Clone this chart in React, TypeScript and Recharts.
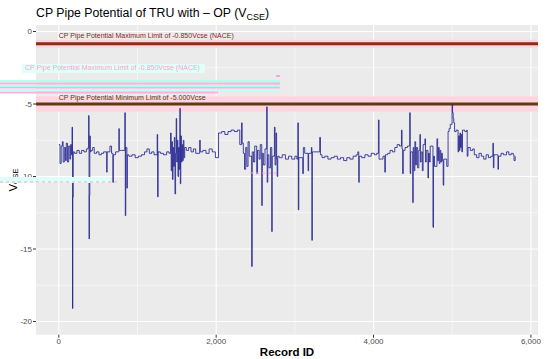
import React from "react";
import {
  LineChart,
  Line,
  XAxis,
  YAxis,
  CartesianGrid,
  ReferenceLine,
  ReferenceDot,
} from "recharts";

// record id, potential (V CSE)
const startReadings: [number, number][] = [
  [1, -7.8], [15, -9.1], [30, -7.9], [45, -7.6], [55, -9.0], [70, -8.0], [85, -8.9],
  [95, -7.7], [110, -9.0], [125, -7.9], [140, -8.8], [150, -7.8], [160, -8.5],
  [168, -6.6], [174, -19.1], [178, -11.4], [184, -8.3], [200, -8.4], [230, -8.2],
  [260, -8.4], [290, -8.2], [320, -8.3], [350, -8.1], [372, -8.0], [379, -5.8],
  [384, -14.3], [389, -11.3], [394, -7.2], [400, -8.3], [410, -8.2], [430, -8.0],
  [450, -8.4], [480, -8.3], [510, -8.5], [540, -8.4], [570, -8.3], [608, -9.7],
  [614, -8.3], [650, -7.9], [670, -8.4], [687, -10.4], [693, -8.5], [720, -8.3],
  [763, -6.7], [769, -8.2], [800, -8.2], [839, -5.6], [845, -12.7], [851, -8.0],
  [865, -10.8], [871, -8.5], [890, -8.6], [930, -8.5], [970, -8.7], [1010, -8.6],
  [1050, -8.5], [1090, -8.3], [1120, -8.1], [1150, -8.4], [1180, -8.3], [1210, -8.5],
  [1250, -7.1], [1256, -11.4], [1262, -8.3], [1290, -8.4], [1330, -8.5], [1370, -8.3],
  [1400, -8.4],
];

const earlyBurst: [number, number][] = [
  [1420, -7.0], [1428, -9.6], [1436, -7.6], [1444, -10.2], [1452, -8.0], [1460, -9.3],
  [1468, -7.3], [1476, -11.2], [1484, -8.4], [1492, -6.0], [1498, -9.0], [1506, -7.5],
  [1514, -10.0], [1522, -8.0], [1530, -9.5], [1538, -5.3], [1544, -10.5], [1550, -7.2],
  [1558, -9.0], [1566, -7.8], [1574, -8.9], [1582, -7.5], [1590, -8.7], [1600, -8.0],
  [1620, -8.2], [1650, -8.0], [1680, -8.3], [1710, -8.1], [1740, -8.4], [1790, -7.5],
  [1798, -8.3], [1830, -8.2], [1870, -8.4], [1910, -8.1], [1950, -8.3], [1990, -8.7],
  [2030, -7.0], [2070, -6.9], [2110, -7.1], [2150, -6.9], [2190, -6.8], [2230, -6.9],
  [2270, -6.8], [2300, -7.8], [2323, -6.3], [2330, -7.7], [2345, -8.4], [2360, -9.5],
  [2375, -8.0], [2390, -9.3], [2405, -7.6], [2420, -8.6], [2451, -16.2], [2458, -8.3],
  [2475, -9.0], [2490, -7.9], [2515, -9.8], [2525, -8.2], [2545, -8.8], [2560, -7.8],
  [2579, -12.0], [2586, -8.4], [2600, -9.2], [2620, -8.1], [2642, -5.2], [2648, -10.4],
  [2656, -8.5], [2670, -9.4], [2690, -8.0], [2706, -13.8], [2712, -8.6], [2740, -6.6],
  [2748, -9.2], [2760, -7.0], [2768, -8.8], [2775, -10.0], [2782, -8.6],
];

const midReadings: [number, number][] = [
  [2800, -8.7], [2840, -8.5], [2880, -8.8], [2920, -8.6], [2960, -8.8], [3000, -8.6],
  [3025, -8.8], [3038, -6.3], [3044, -12.3], [3050, -8.7], [3100, -9.8], [3108, -8.0],
  [3125, -8.4], [3168, -9.6], [3175, -8.4], [3210, -8.0], [3216, -14.4], [3222, -8.3],
  [3250, -8.3], [3316, -7.3], [3325, -8.5], [3345, -8.7], [3380, -8.6], [3420, -8.8],
  [3460, -8.7], [3500, -8.6], [3540, -8.8], [3580, -8.7], [3620, -8.9], [3660, -8.7],
  [3700, -8.8], [3740, -8.6], [3780, -8.5], [3800, -8.3], [3812, -10.4], [3818, -8.6],
  [3850, -8.7], [3890, -8.5], [3930, -8.6], [3970, -8.4], [4010, -8.5], [4040, -8.4],
  [4062, -6.1], [4070, -8.8], [4100, -8.8], [4120, -8.6], [4143, -9.7], [4150, -8.5],
  [4180, -8.4], [4210, -8.2], [4240, -8.3], [4270, -8.0], [4300, -7.8], [4330, -7.9],
  [4355, -6.8], [4362, -8.1], [4370, -9.8], [4378, -8.2], [4400, -8.0], [4430, -7.9],
];

const lateReadings: [number, number][] = [
  [4460, -5.6], [4466, -9.8], [4472, -8.3], [4498, -11.8], [4504, -8.0], [4515, -9.6],
  [4525, -7.6], [4535, -9.2], [4545, -8.0], [4560, -9.4], [4575, -8.2], [4589, -7.1],
  [4595, -9.0], [4605, -8.3], [4620, -9.6], [4630, -7.8], [4653, -7.4], [4660, -9.0],
  [4670, -8.2], [4691, -10.1], [4698, -8.4], [4710, -9.0], [4720, -7.9], [4755, -13.5],
  [4762, -8.6], [4775, -9.3], [4806, -7.4], [4815, -8.9], [4825, -8.0], [4835, -9.1],
  [4845, -8.2], [4855, -9.0], [4865, -8.4], [4875, -8.9], [4885, -10.6], [4892, -8.8],
  [4930, -9.3], [4947, -6.9], [4960, -6.7], [4975, -6.4], [4998, -5.05], [5004, -5.6],
  [5012, -6.0], [5020, -6.3], [5030, -6.9], [5050, -6.8], [5074, -8.3], [5082, -7.2],
  [5090, -8.2], [5098, -7.0], [5106, -8.0], [5114, -7.1], [5122, -8.3], [5130, -6.8],
  [5160, -6.9], [5185, -6.8], [5190, -8.6], [5200, -8.0], [5230, -8.2], [5260, -8.1],
  [5280, -8.5], [5310, -8.7], [5340, -8.4], [5370, -8.6], [5400, -8.8], [5430, -8.5],
  [5460, -8.7], [5490, -8.6], [5517, -7.7], [5523, -9.4], [5530, -8.5], [5581, -9.5],
  [5588, -8.6], [5620, -8.4], [5650, -8.5], [5690, -8.3], [5720, -8.5], [5750, -8.4],
  [5775, -8.5], [5785, -8.9], [5800, -8.6],
];

const xTicks = [0, 2000, 4000, 6000];
const xMinor = [1000, 3000, 5000];
const yTicks = [0, -5, -10, -15, -20];
const yMinor = [-2.5, -7.5, -12.5, -17.5];

const maxLimit = -0.85;
const minLimit = -5;
const maxLimitText = "CP Pipe Potential Maximum Limit of -0.850Vcse (NACE)";
const minLimitText = "CP Pipe Potential Minimum Limit of -5.000Vcse";

const data = [...startReadings, ...earlyBurst, ...midReadings, ...lateReadings].map(
  ([rec, v]) => ({ rec, v })
);

const FONT = "'Liberation Sans', Arial, sans-serif";

function noteShape(text: string, color: string) {
  return (p: any) => (
    <text x={p.cx} y={p.cy} dy="0.35em" fontSize={7} fill={color} fontFamily={FONT}>
      {text}
    </text>
  );
}

export default function App() {
  return (
    <div style={{ position: "absolute", left: 0, top: 0, width: 550, height: 359, background: "#fff", fontFamily: FONT }}>
      <LineChart width={550} height={359} data={data} margin={{ top: 25, right: 12, bottom: 0, left: 0 }}>
        <CartesianGrid
          fill="#EBEBEB"
          stroke="#FFFFFF"
          strokeWidth={0.5}
          horizontalValues={yMinor}
          verticalValues={xMinor}
        />
        <CartesianGrid stroke="#FFFFFF" strokeWidth={1.1} horizontalValues={yTicks} verticalValues={xTicks} />
        <XAxis
          type="number"
          dataKey="rec"
          domain={[-290, 6090]}
          ticks={xTicks}
          tickFormatter={(t: number) => t.toLocaleString("en-US")}
          allowDataOverflow
          axisLine={false}
          tickSize={3}
          tickMargin={1}
          tickLine={{ stroke: "#333" }}
          tick={{ fill: "#4D4D4D", fontSize: 8 }}
          height={24.3}
        />
        <YAxis
          type="number"
          domain={[-20.91, 0.45]}
          ticks={yTicks}
          allowDataOverflow
          axisLine={false}
          tickSize={3}
          tickMargin={1}
          tickLine={{ stroke: "#333" }}
          tick={{ fill: "#4D4D4D", fontSize: 8 }}
          width={36}
        />
        <ReferenceLine y={maxLimit} stroke="#FFD3DF" strokeWidth={8} />
        <ReferenceLine y={minLimit} stroke="#FFD3DF" strokeWidth={15} />
        <ReferenceLine y={maxLimit} stroke="#8B2E12" strokeWidth={3} />
        <ReferenceLine y={minLimit} stroke="#5C3D12" strokeWidth={3} />
        <ReferenceDot x={0} y={-0.31} r={0} shape={noteShape(maxLimitText, "#8B1C1C")} />
        <ReferenceDot x={0} y={-4.52} r={0} shape={noteShape(minLimitText, "#4E3C12")} />
        <Line
          type="stepAfter"
          dataKey="v"
          stroke="#1C1C8C"
          strokeOpacity={0.8}
          strokeWidth={1}
          dot={false}
          isAnimationActive={false}
        />
      </LineChart>
      <svg width={550} height={359} style={{ position: "absolute", left: 0, top: 0, pointerEvents: "none" }} fontFamily={FONT}>
        <text x={36} y={17} fontSize={12.3} fill="#000">
          CP Pipe Potential of TRU with – OP (V
          <tspan fontSize={9} dy={3}>CSE</tspan>
          <tspan dy={-3}>)</tspan>
        </text>
        <text x={287} y={356} fontSize={11.5} fontWeight="bold" textAnchor="middle" fill="#000">
          Record ID
        </text>
        <text transform="rotate(-90 17 180)" x={17} y={180} fontSize={11.5} textAnchor="middle" fill="#000">
          V<tspan fontSize={7.5} dy={1}>CSE</tspan>
        </text>
        {/* rendering glitches in the source image */}
        <rect x={22} y={64} width={183} height={9} fill="#E2FFF7" />
        <text x={25} y={68} dy="0.35em" fontSize={7} fill="#FF9FD8">
          {maxLimitText}
        </text>
        <rect x={276} y={75} width={4} height={2} fill="#FFA6DC" />
        <rect x={0} y={80} width={280} height={2.5} fill="#B2FFEC" />
        <rect x={0} y={82.5} width={280} height={2} fill="#FFB0E2" />
        <rect x={0} y={85} width={280} height={2} fill="#B2FFEC" />
        <rect x={0} y={87} width={280} height={1.5} fill="#FFB0E2" />
        <rect x={0} y={89} width={280} height={2} fill="#C6FFF1" />
        <rect x={0} y={91.5} width={218} height={2} fill="#FFB0E2" />
        <rect x={0} y={177} width={110} height={6} fill="#DDFFF7" />
        <line x1={0} y1={182} x2={117} y2={182} stroke="#FF9FD8" strokeWidth={1} strokeDasharray="3 3" />
        <line x1={250} y1={173} x2={280} y2={173} stroke="#FF9FD8" strokeWidth={1} strokeDasharray="3 3" />
      </svg>
    </div>
  );
}
